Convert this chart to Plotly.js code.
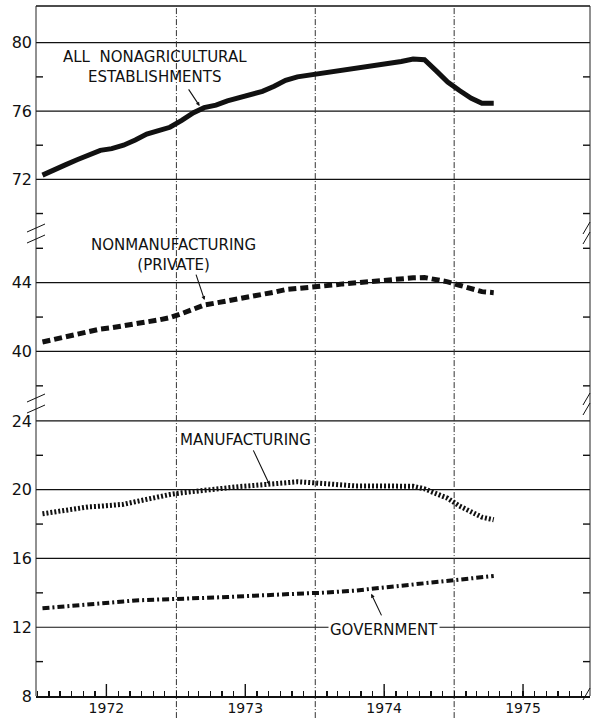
<!DOCTYPE html>
<html><head><meta charset="utf-8">
<script src="https://cdn.plot.ly/plotly-3.0.1.min.js"></script>
<style>html,body{margin:0;padding:0;background:#fff}#chart{width:593px;height:718px}</style>
</head><body><div id="chart"></div>
<script>
const months = [
 '1972-01-15','1972-02-15','1972-03-15','1972-04-15','1972-05-15','1972-06-15','1972-07-15','1972-08-15','1972-09-15','1972-10-15','1972-11-15','1972-12-15',
 '1973-01-15','1973-02-15','1973-03-15','1973-04-15','1973-05-15','1973-06-15','1973-07-15','1973-08-15','1973-09-15','1973-10-15','1973-11-15','1973-12-15',
 '1974-01-15','1974-02-15','1974-03-15','1974-04-15','1974-05-15','1974-06-15','1974-07-15','1974-08-15','1974-09-15','1974-10-15','1974-11-15','1974-12-15',
 '1975-01-15','1975-02-15','1975-03-15','1975-04-15'];
const allNonag = [72.25,72.6,72.85,73.15,73.45,73.7,73.8,74.0,74.3,74.65,74.85,75.05,
 75.45,75.9,76.2,76.35,76.6,76.8,76.95,77.15,77.45,77.8,78.0,78.1,
 78.15,78.25,78.4,78.5,78.6,78.65,78.75,78.9,79.05,79.0,78.35,77.7,
 77.2,76.75,76.45,76.45];
const nonmfg = [40.55,40.7,40.88,41.05,41.2,41.3,41.38,41.47,41.6,41.72,41.83,41.97,
 42.2,42.45,42.7,42.82,42.93,43.04,43.15,43.27,43.45,43.6,43.65,43.72,
 43.8,43.86,43.93,44.0,44.05,44.1,44.16,44.22,44.28,44.3,44.2,44.05,
 43.85,43.62,43.48,43.42];
const mfg = [18.6,18.72,18.82,18.92,19.0,19.04,19.06,19.15,19.3,19.45,19.6,19.72,
 19.82,19.9,19.99,20.05,20.12,20.18,20.23,20.3,20.36,20.42,20.46,20.42,
 20.36,20.3,20.24,20.22,20.22,20.22,20.22,20.22,20.2,20.05,19.8,19.5,
 19.05,18.7,18.4,18.25];
const govt = [13.1,13.15,13.2,13.28,13.32,13.38,13.43,13.5,13.56,13.58,13.6,13.6,
 13.62,13.66,13.7,13.73,13.76,13.8,13.83,13.87,13.91,13.94,13.97,13.98,
 14.0,14.03,14.08,14.13,14.2,14.27,14.35,14.43,14.51,14.58,14.65,14.72,
 14.8,14.86,14.92,14.98];
const years = ['1972','1973','1974','1975'];
const yearStarts = ['1973-01-01','1974-01-01','1975-01-01'];
const topMajor = [72,76,80];
const topMinor = [70,74,78];
const midMajor = [40,44];
const midMinor = [38,42,46];
const botMajor = [8,12,16,20,24];
const botMinor = [10,14,18,22];

const INK = '#111';
const FONT = 'DejaVu Sans';

const traces = [
 {x: months, y: allNonag, xaxis:'x', yaxis:'y3', mode:'lines', line:{color:INK, width:5}},
 {x: months, y: nonmfg, xaxis:'x', yaxis:'y2', mode:'lines', line:{color:INK, width:5, dash:'8px,4px'}},
 {x: months, y: mfg, xaxis:'x', yaxis:'y', mode:'lines', line:{color:INK, width:5, dash:'2px,2px'}},
 {x: months, y: govt, xaxis:'x', yaxis:'y', mode:'lines', line:{color:INK, width:4, dash:'7px,3px,2px,3px'}}
];

// month-start tick positions, year label on each July
const monthTicks = [], monthText = [];
years.forEach(yr => { for (let m = 1; m <= 12; m++) {
  monthTicks.push(yr + '-' + String(m).padStart(2,'0') + '-01');
  monthText.push(m === 7 ? yr : '');
}});
const julyTicks = monthTicks.filter((d,i) => monthText[i] !== '');

// plot-area geometry helpers (layout only)
const L = 36, R = 590, T = 6, B = 696;
const px = v => (v - L) / (R - L);
const py = v => (B - v) / (B - T);
const bBot = py(402), bTop = py(233);
const xRange = ['1971-12-29','1975-12-24'];
const t0 = Date.parse(xRange[0]), t1 = Date.parse(xRange[1]);
const dateToPaper = d => (Date.parse(d) - t0) / (t1 - t0);

const panels = [
  {ax:'y3', dom:[bTop, 1], range:[68.86, 82.15], major:topMajor, minor:topMinor},
  {ax:'y2', dom:[bBot, bTop], range:[37.06, 46.89], major:midMajor, minor:midMinor},
  {ax:'y',  dom:[0, bBot], range:[8, 25.1], major:botMajor, minor:botMinor}
];
const valToPaper = (p, v) => p.dom[0] + (v - p.range[0]) / (p.range[1] - p.range[0]) * (p.dom[1] - p.dom[0]);

function yax(p){
 return {domain: p.dom, range: p.range, tickmode:'array', tickvals: p.major, ticktext: p.major.map(String),
  showgrid:false, zeroline:false, showline:false, ticks:'',
  tickfont:{family:FONT, size:16, color:INK}, ticklabelstandoff:3,
  fixedrange:true, anchor:'x'};
}

const shapes = [];
const tkx = 7 / (R - L);
panels.forEach(p => {
  p.major.filter(v => v !== 8).forEach(v =>
    shapes.push({type:'line', xref:'paper', yref:p.ax, x0:0, x1:1, y0:v, y1:v, line:{color:INK, width:1.2}, layer:'below'}));
  p.minor.forEach(v => {
    const yp = valToPaper(p, v);
    shapes.push({type:'line', xref:'paper', yref:'paper', x0:0, x1:tkx, y0:yp, y1:yp, line:{color:INK, width:1.4}});
    shapes.push({type:'line', xref:'paper', yref:'paper', x0:1-tkx, x1:1, y0:yp, y1:yp, line:{color:INK, width:1.4}});
  });
});
yearStarts.forEach(d => shapes.push({type:'line', xref:'x', yref:'paper', x0:d, x1:d, y0:-0.032, y1:1,
  line:{color:'#333', width:1, dash:'6px,2px,1px,2px'}, layer:'below'}));
julyTicks.forEach(d => { const xp = dateToPaper(d);
  shapes.push({type:'line', xref:'paper', yref:'paper', x0:xp, x1:xp, y0:0, y1:12/(B-T), line:{color:INK, width:1.4}}); });
shapes.push({type:'line', xref:'paper', yref:'paper', x0:0, x1:1, y0:1, y1:1, line:{color:INK, width:1.5}});
shapes.push({type:'line', xref:'paper', yref:'paper', x0:0, x1:0, y0:0, y1:1, line:{color:'#222', width:1}});
shapes.push({type:'line', xref:'paper', yref:'paper', x0:1, x1:1, y0:0, y1:1, line:{color:'#222', width:1}});
function slash(x0,y0,x1,y1){shapes.push({type:'line', xref:'paper', yref:'paper', x0:px(x0), y0:py(y0), x1:px(x1), y1:py(y1), line:{color:INK, width:1}});}
slash(27,232,45,224); slash(27,243,45,235);
slash(27,402,45,394); slash(27,413,45,405);
slash(583,234,590,222); slash(583,244,590,232);
slash(583,405,590,393); slash(583,415,590,403);
slash(583,700,590,688);

const annF = {family:FONT, size:15, color:INK};
const annotations = [
 {x:'1972-11-07', y:78.55, xref:'x', yref:'y3', text:'ALL  NONAGRICULTURAL<br>ESTABLISHMENTS', showarrow:false, font:annF, align:'center'},
 {x:'1973-03-03', y:76.3, xref:'x', yref:'y3', text:'', showarrow:true, ax:-12, ay:-18, arrowhead:2, arrowsize:0.7, arrowwidth:1.1, arrowcolor:INK},
 {x:'1972-12-24', y:45.62, xref:'x', yref:'y2', text:'NONMANUFACTURING<br>(PRIVATE)', showarrow:false, font:annF, align:'center'},
 {x:'1973-03-16', y:42.99, xref:'x', yref:'y2', text:'', showarrow:true, ax:-9, ay:-27, arrowhead:2, arrowsize:0.7, arrowwidth:1.1, arrowcolor:INK},
 {x:'1973-07-01', y:22.9, xref:'x', yref:'y', text:'MANUFACTURING', showarrow:false, font:annF, bgcolor:'#fff'},
 {x:'1973-09-03', y:20.28, xref:'x', yref:'y', text:'', showarrow:true, ax:-17, ay:-36, arrowhead:2, arrowsize:0.7, arrowwidth:1.1, arrowcolor:INK},
 {x:'1974-07-01', y:11.84, xref:'x', yref:'y', text:'GOVERNMENT', showarrow:false, font:annF, bgcolor:'#fff'},
 {x:'1974-05-28', y:13.94, xref:'x', yref:'y', text:'', showarrow:true, ax:11, ay:23, arrowhead:2, arrowsize:0.7, arrowwidth:1.1, arrowcolor:INK}
];

const layout = {
 width:593, height:718, margin:{l:L, r:593-R, t:T, b:718-B}, paper_bgcolor:'#fff', plot_bgcolor:'#fff',
 showlegend:false, font:{family:FONT, color:INK},
 xaxis:{type:'date', range:xRange, anchor:'y', tickmode:'array', tickvals:monthTicks, ticktext:monthText,
  ticks:'inside', ticklen:5, tickcolor:INK, tickwidth:1.2, showgrid:false, zeroline:false, ticklabelstandoff:-2,
  showline:true, linecolor:INK, linewidth:2, tickfont:{family:FONT, size:14, color:INK},
  fixedrange:true},
 yaxis: yax(panels[2]),
 yaxis2: yax(panels[1]),
 yaxis3: yax(panels[0]),
 shapes: shapes, annotations: annotations
};
Plotly.newPlot('chart', traces, layout, {displayModeBar:false, staticPlot:true});
</script></body></html>
